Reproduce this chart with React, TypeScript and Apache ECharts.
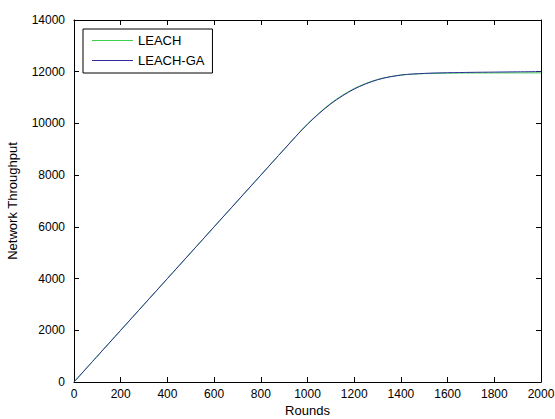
import React, { useEffect, useRef } from "react";
import * as echarts from "echarts";

const rounds = [0, 100, 200, 300, 400, 500, 600, 700, 800, 900, 1000, 1100, 1200, 1300, 1400, 1500, 1600, 1700, 1800, 1900, 2000];
const leach = [0, 1000, 2000, 3000, 4000, 5000, 6000, 7000, 8000, 9000, 9980, 10780, 11350, 11700, 11870, 11925, 11945, 11950, 11952, 11954, 11955];
const leachGA = [0, 1000, 2000, 3000, 4000, 5000, 6000, 7000, 8000, 9000, 9970, 10760, 11330, 11690, 11870, 11935, 11960, 11975, 11985, 11995, 12005];
const seriesNames = ["LEACH", "LEACH-GA"];
const xTitle = "Rounds";
const yTitle = "Network Throughput";

export default function App() {
  const ref = useRef<HTMLDivElement>(null);
  useEffect(() => {
    const chart = echarts.init(ref.current!, null, { renderer: "svg" });
    const font = "Liberation Sans";
    const axisLine = { show: true, onZero: false, lineStyle: { color: "#000", width: 1 } };
    const tick = { show: true, inside: true, length: 5, lineStyle: { color: "#000" } };
    const fmt = (v: number) => String(v);
    chart.setOption({
      animation: false,
      backgroundColor: "#fff",
      textStyle: { fontFamily: font },
      grid: { left: 74, right: 14, top: 20, bottom: 37, containLabel: false, outerBoundsMode: "none" },
      legend: {
        orient: "vertical",
        left: 83,
        top: 29,
        data: seriesNames,
        icon: "rect",
        backgroundColor: "#fff",
        borderColor: "#000",
        borderWidth: 1,
        borderRadius: 0,
        padding: [5, 8, 6, 9],
        itemGap: 7,
        itemWidth: 41,
        itemHeight: 1,
        textStyle: { fontFamily: font, fontSize: 13, color: "#000" },
      },
      xAxis: [
        {
          type: "value",
          min: 0,
          max: 2000,
          interval: 200,
          name: xTitle,
          nameLocation: "middle",
          nameGap: 22,
          nameMoveOverlap: false,
          nameTextStyle: { fontFamily: font, fontSize: 13, lineHeight: 13, color: "#000" },
          axisLine,
          axisTick: tick,
          axisLabel: { fontFamily: font, fontSize: 12, color: "#000", margin: 6, formatter: fmt },
          splitLine: { show: false },
        },
        {
          type: "value",
          position: "top",
          min: 0,
          max: 2000,
          interval: 200,
          axisLine,
          axisTick: tick,
          axisLabel: { show: false },
          splitLine: { show: false },
        },
      ],
      yAxis: [
        {
          type: "value",
          min: 0,
          max: 14000,
          interval: 2000,
          name: yTitle,
          nameLocation: "middle",
          nameGap: 55,
          nameTextStyle: { fontFamily: font, fontSize: 13, color: "#000" },
          axisLine,
          axisTick: tick,
          axisLabel: { fontFamily: font, fontSize: 12, color: "#000", margin: 9, formatter: fmt },
          splitLine: { show: false },
        },
        {
          type: "value",
          position: "right",
          min: 0,
          max: 14000,
          interval: 2000,
          axisLine,
          axisTick: tick,
          axisLabel: { show: false },
          splitLine: { show: false },
        },
      ],
      series: [
        {
          name: seriesNames[0],
          type: "line",
          data: rounds.map((r, i) => [r, leach[i]]),
          showSymbol: false,
          symbol: "none",
          smooth: 0.3,
          lineStyle: { color: "#3ccf4a", width: 1 },
          itemStyle: { color: "#3ccf4a" },
        },
        {
          name: seriesNames[1],
          type: "line",
          data: rounds.map((r, i) => [r, leachGA[i]]),
          showSymbol: false,
          symbol: "none",
          smooth: 0.3,
          lineStyle: { color: "#2e2e9a", width: 1 },
          itemStyle: { color: "#2e2e9a" },
        },
      ],
    });
    return () => chart.dispose();
  }, []);
  return <div ref={ref} style={{ width: 555, height: 419, position: "absolute", left: 0, top: 0 }} />;
}
